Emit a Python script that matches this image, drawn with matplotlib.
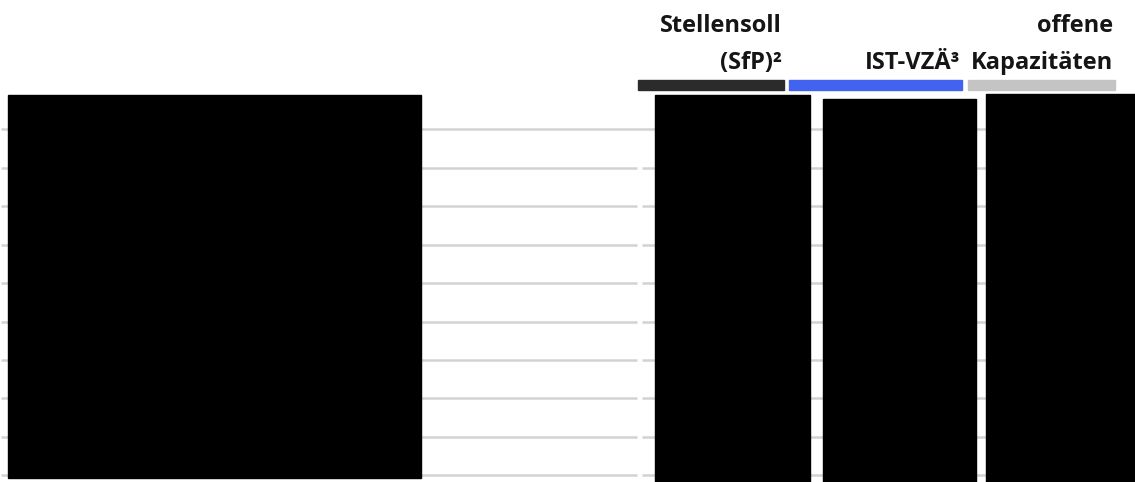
import matplotlib
matplotlib.use("Agg")
import matplotlib.pyplot as plt
from matplotlib.patches import Rectangle

# Column headers (table with redacted contents)
col_headers = ["Stellensoll\n(SfP)²", "IST-VZÄ³", "offene\nKapazitäten"]
col_colors = ["#2b2b2b", "#4262f0", "#c4c4c4"]
n_rows = 10  # number of row separator lines

W, H = 1135, 482
fig = plt.figure(figsize=(W / 100, H / 100), dpi=100)
ax = fig.add_axes([0, 0, 1, 1])
ax.set_xlim(0, W)
ax.set_ylim(H, 0)
ax.axis("off")

# layout (pixels)
col_bar_x = [(638, 784), (789, 962), (968, 1115)]
bar_top, bar_bot = 80, 90
row_y0, row_dy = 129.3, 38.45

# row separator lines
for i in range(n_rows):
    y = row_y0 + i * row_dy
    if i == 0:
        ax.plot([1, W], [y, y], color="#d2d2d2", lw=1.8, solid_capstyle="butt", zorder=1)
    else:
        ax.plot([1, 637], [y, y], color="#d2d2d2", lw=1.8, solid_capstyle="butt", zorder=1)
        ax.plot([642, W], [y, y], color="#d2d2d2", lw=1.8, solid_capstyle="butt", zorder=1)

# header labels + colored bars
for (x0, x1), label, c in zip(col_bar_x, col_headers, col_colors):
    ax.add_patch(Rectangle((x0, bar_top), x1 - x0, bar_bot - bar_top, color=c, zorder=2))
    lines = label.split("\n")
    baselines = [69] if len(lines) == 1 else [32, 69]
    for ln, yb in zip(lines, baselines):
        ax.text(x1 - 2, yb, ln, ha="right", va="baseline", fontsize=17,
                fontweight="bold", family=["Open Sans", "DejaVu Sans"], color="#151515", zorder=3)

# redaction boxes
redactions = [(8, 95, 421, 478), (655, 95, 810, 482), (823, 99, 976, 482), (986, 94, 1135, 482)]
for x0, y0, x1, y1 in redactions:
    ax.add_patch(Rectangle((x0, y0), x1 - x0, y1 - y0, color="black", zorder=4))

fig.savefig("out.png", dpi=100)
